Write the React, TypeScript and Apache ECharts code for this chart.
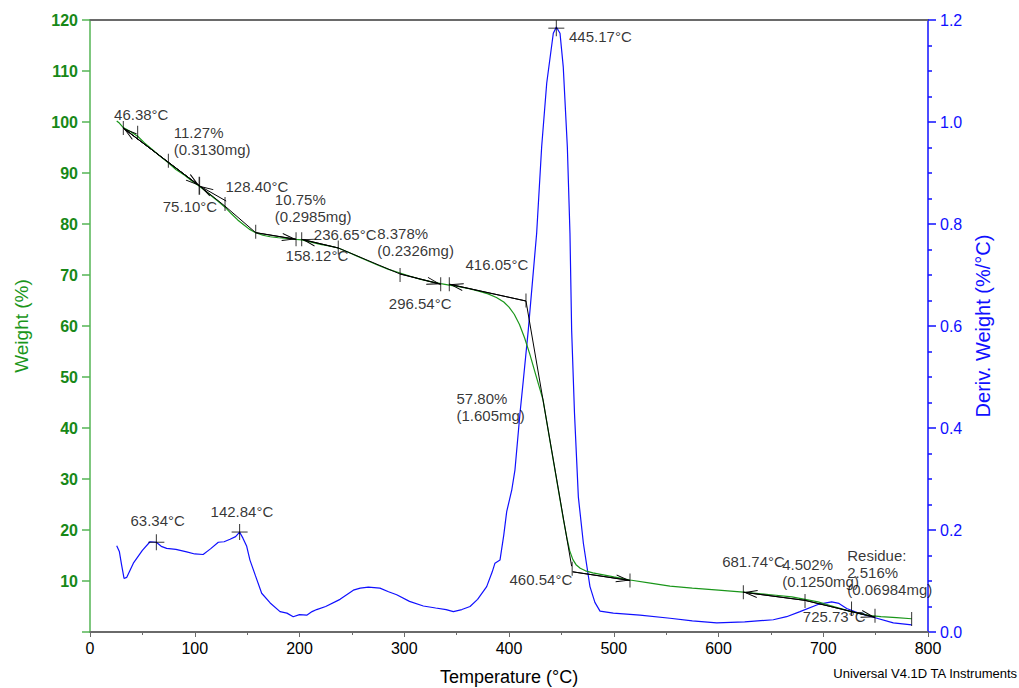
import React, { useEffect, useRef } from "react";
import * as echarts from "echarts";

// TGA weight curve: [temperature °C, weight %]
const tgaCurve: [number, number][] = [
  [25.5, 100.2], [28, 99.8], [31.8, 98.9], [38, 98.2], [45.5, 97.2], [52, 95.9], [60, 94.5], [67, 93.3],
  [74.8, 92.0], [82, 90.7], [90, 89.6], [97, 88.5], [104.4, 87.4], [110, 86.5], [116, 85.5], [122, 84.5],
  [128.9, 83.3], [135, 82.0], [141, 80.8], [147, 79.8], [152, 79.0], [158.2, 78.3], [165, 77.8], [172, 77.5],
  [180, 77.3], [188, 77.2], [196.7, 77.0], [202.1, 76.9], [210, 76.5], [220, 76.0], [228, 75.7], [237, 75.3],
  [245, 74.6], [255, 73.7], [265, 72.8], [275, 71.9], [285, 71.1], [296, 70.4], [305, 69.8], [315, 69.2],
  [325, 68.7], [334.8, 68.3], [343, 68.0], [352, 67.7], [362, 67.3], [372, 66.8], [380, 66.3], [388, 65.6],
  [395, 64.7], [400, 63.7], [405, 62.3], [410, 60.3], [415, 57.6], [420, 54.4], [425, 50.8], [432.5, 45.5],
  [440, 36.4], [445, 30.4], [449, 25.6], [452, 22.0], [455.5, 18.2], [458, 15.9], [461, 14.2], [464, 13.2],
  [468, 12.5], [473, 12.0], [480, 11.6], [490, 11.2], [500, 10.8], [515.5, 10.2], [535, 9.6], [553.7, 9.0],
  [575, 8.6], [600, 8.2], [623.7, 7.8], [650, 7.3], [670, 6.9], [682.6, 6.4], [695, 5.9], [705, 5.3],
  [715, 4.7], [725, 4.1], [735, 3.6], [745, 3.2], [755, 3.0], [770, 2.8], [784.4, 2.6],
];

// Derivative weight curve: [temperature °C, %/°C]
const dtgCurve: [number, number][] = [
  [25.5, 0.169], [28, 0.158], [30.2, 0.131], [32.5, 0.105], [35, 0.107], [41.4, 0.135], [50, 0.160],
  [57.3, 0.177], [63.3, 0.176], [68, 0.168], [73.2, 0.164], [82, 0.162], [92.3, 0.157], [100, 0.153],
  [108, 0.152], [115, 0.163], [122.5, 0.176], [128, 0.177], [133.7, 0.182], [139, 0.187], [142.8, 0.196],
  [146, 0.184], [149.6, 0.168], [152.7, 0.141], [158, 0.110], [163.9, 0.076], [172, 0.057], [181.4, 0.040],
  [188, 0.037], [194, 0.030], [200, 0.034], [206.9, 0.033], [212, 0.040], [216.4, 0.044], [225, 0.050],
  [238.7, 0.064], [251.4, 0.082], [258, 0.086], [265.7, 0.088], [276.8, 0.086], [285, 0.079], [292.8, 0.073],
  [305, 0.060], [318.2, 0.051], [330, 0.047], [340, 0.044], [346.9, 0.040], [355, 0.044], [362.8, 0.050],
  [370, 0.064], [378.7, 0.089], [384, 0.118], [386.6, 0.135], [391.4, 0.141], [395, 0.190], [397.8, 0.236],
  [402.6, 0.278], [405.7, 0.318], [410.5, 0.429], [413.7, 0.494], [418.4, 0.592], [426.4, 0.782],
  [431.2, 0.952], [436, 1.076], [442.3, 1.174], [445.2, 1.186], [448.7, 1.174], [451.8, 1.108],
  [455.7, 0.951], [458.2, 0.782], [459.8, 0.592], [462.5, 0.43], [466.2, 0.265], [471, 0.174],
  [477.3, 0.089], [482, 0.058], [486.9, 0.041], [499.6, 0.037], [525, 0.033], [553.7, 0.027],
  [575, 0.022], [598.3, 0.018], [625, 0.020], [652.3, 0.024], [665, 0.030], [677.8, 0.040], [695, 0.054],
  [708, 0.059], [715, 0.056], [722.4, 0.046], [735, 0.036], [747.8, 0.029], [766.9, 0.018], [784.4, 0.014],
];

// Step-analysis tangent/segment lines (weight axis)
const stepSegments: [number, number][][] = [
  [[31.8, 98.8], [104.4, 87.5]],
  [[104.4, 87.5], [128.9, 83.5], [158.2, 78.3]],
  [[158.2, 78.3], [196.7, 77.0]],
  [[202.1, 77.0], [237, 75.3], [296, 70.2], [334.8, 68.2]],
  [[343, 68.2], [416.2, 64.9], [459.8, 12.9]],
  [[460.8, 11.8], [515.5, 10.1]],
  [[623.7, 7.8], [682.6, 6.2], [749.4, 2.9]],
];

// Arrow heads: [tail, tip]
const stepArrows: [[number, number], [number, number]][] = [
  [[104.4, 87.5], [31.8, 98.8]],
  [[31.8, 98.8], [104.4, 87.5]],
  [[130, 84.5], [104.4, 87.5]],
  [[158.2, 78.3], [196.7, 77.0]],
  [[237, 75.3], [202.1, 77.0]],
  [[296, 70.2], [334.8, 68.2]],
  [[416.2, 64.9], [343, 68.2]],
  [[460.8, 11.8], [515.5, 10.1]],
  [[682.6, 6.2], [623.7, 7.8]],
  [[682.6, 6.2], [749.4, 2.9]],
];

// Vertical limit ticks on the weight curve
const stepTicks: [number, number][] = [
  [31.8, 98.8], [45.5, 97.9], [74.8, 92.4], [128.9, 83.9], [158.2, 78.5], [196.7, 77.0], [202.1, 77.0],
  [237, 75.4], [296, 70.0], [334.8, 68.2], [343, 68.2], [416.2, 65.0], [460.3, 12.4], [515.5, 10.1],
  [623.7, 7.8], [682.6, 6.1], [727, 4.6], [749.4, 3.2], [784.4, 2.55],
];
const longTicks: [number, number][] = [[104.4, 87.5]];

// Peak crosshairs on the derivative curve
const peakMarks: [number, number][] = [[63.34, 0.176], [142.84, 0.196], [445.17, 1.184]];

// Annotation texts: [temperature, weight, text]
const annotations: [number, number, string][] = [
  [22.5, 101.4, "46.38°C"],
  [79.5, 96.3, "11.27%\n(0.3130mg)"],
  [128.9, 87.3, "128.40°C"],
  [69.0, 83.5, "75.10°C"],
  [176.0, 83.2, "10.75%\n(0.2985mg)"],
  [213.2, 78.0, "236.65°C"],
  [273.7, 76.5, "8.378%\n(0.2326mg)"],
  [186.2, 73.9, "158.12°C"],
  [284.8, 64.5, "296.54°C"],
  [358.0, 72.0, "416.05°C"],
  [456.8, 116.7, "445.17°C"],
  [349.4, 44.2, "57.80%\n(1.605mg)"],
  [400.0, 10.2, "460.54°C"],
  [38.2, 21.8, "63.34°C"],
  [114.6, 23.7, "142.84°C"],
  [603.0, 13.8, "681.74°C"],
  [660.3, 11.5, "4.502%\n(0.1250mg)"],
  [722.4, 11.7, "Residue:\n2.516%\n(0.06984mg)"],
  [680.0, 3.1, "725.73°C"],
];

const xTicks = { min: 0, max: 800, interval: 100 };
const weightTicks = { min: 0, max: 120, interval: 10 };
const derivTicks = { min: 0, max: 1.2, interval: 0.2 };

const FONT = "Liberation Sans, Arial, Helvetica, sans-serif";
const GREEN_TEXT = "#178817";
const GREEN_LINE = "#55b555";
const GREEN_CURVE = "#1a961a";
const BLUE = "#1010ff";
const GRAY = "#6a6a6a";

const ARROW = "path://M4,-14 M0,14 L4,0 L8,14 L7,14 L4,3.5 L1,14 Z";

export default function App() {
  const ref = useRef<HTMLDivElement>(null);

  useEffect(() => {
    if (!ref.current) return;
    const chart = echarts.init(ref.current, undefined, { renderer: "svg" });

    const segSeries = stepSegments.map((seg, i) => ({
      type: "line",
      data: seg,
      xAxisIndex: 0,
      yAxisIndex: 0,
      symbol: "none",
      silent: true,
      z: 5,
      lineStyle: { color: "#000", width: 1 },
      ...(i === 0
        ? {
            markLine: {
              silent: true,
              animation: false,
              label: { show: false },
              lineStyle: { color: "#000", width: 1, type: "solid" },
              emphasis: { disabled: true },
              data: stepArrows.map(([tail, tip]) => [
                { coord: tail, symbol: "none" },
                { coord: tip, symbol: ARROW, symbolSize: [8, 28] },
              ]),
            },
          }
        : {}),
    }));

    const option: any = {
      animation: false,
      textStyle: { fontFamily: FONT },
      grid: { left: 90, right: 91, top: 20, bottom: 56, containLabel: false, outerBoundsMode: "none" },
      xAxis: [
        {
          type: "value",
          min: xTicks.min,
          max: xTicks.max,
          interval: xTicks.interval,
          name: "Temperature (°C)",
          nameLocation: "middle",
          nameGap: 36,
          nameTextStyle: { color: "#000", fontSize: 18, fontFamily: FONT },
          axisLine: { show: true, onZero: false, lineStyle: { color: GRAY, width: 2 } },
          axisTick: { show: true, inside: false, length: 5, lineStyle: { color: GRAY } },
          minorTick: { show: true, splitNumber: 2, length: 3, lineStyle: { color: GRAY } },
          axisLabel: { color: "#000", fontSize: 16, margin: 8, fontFamily: FONT },
          splitLine: { show: false },
        },
        {
          type: "value",
          position: "top",
          min: xTicks.min,
          max: xTicks.max,
          axisLine: { show: true, onZero: false, lineStyle: { color: GRAY, width: 2 } },
          axisTick: { show: false },
          axisLabel: { show: false },
          splitLine: { show: false },
        },
      ],
      yAxis: [
        {
          type: "value",
          position: "left",
          min: weightTicks.min,
          max: weightTicks.max,
          interval: weightTicks.interval,
          name: "Weight (%)",
          nameLocation: "middle",
          nameGap: 59,
          nameTextStyle: { color: GREEN_CURVE, fontSize: 19, fontFamily: FONT },
          axisLine: { show: true, onZero: false, lineStyle: { color: GREEN_LINE, width: 1.5 } },
          axisTick: { show: true, inside: false, length: 8, lineStyle: { color: GREEN_LINE, width: 1.5 } },
          axisLabel: {
            color: GREEN_TEXT,
            fontSize: 16,
            fontWeight: "bold",
            margin: 12,
            fontFamily: FONT,
            formatter: (v: number) => (v === 0 ? "" : String(v)),
          },
          splitLine: { show: false },
        },
        {
          type: "value",
          position: "right",
          min: derivTicks.min,
          max: derivTicks.max,
          interval: derivTicks.interval,
          name: "Deriv. Weight (%/°C)",
          nameLocation: "middle",
          nameGap: 44,
          nameTextStyle: { color: BLUE, fontSize: 20, fontFamily: FONT },
          axisLine: { show: true, onZero: false, lineStyle: { color: BLUE, width: 1.5 } },
          axisTick: { show: true, inside: false, length: 8, lineStyle: { color: BLUE, width: 1.5 } },
          minorTick: { show: true, splitNumber: 4, length: 4, lineStyle: { color: BLUE, width: 1.5 } },
          axisLabel: {
            color: BLUE,
            fontSize: 16,
            margin: 12,
            fontFamily: FONT,
            formatter: (v: number) => v.toFixed(1),
          },
          splitLine: { show: false },
        },
      ],
      series: [
        {
          type: "line",
          name: "Weight",
          data: tgaCurve,
          xAxisIndex: 0,
          yAxisIndex: 0,
          symbol: "none",
          silent: true,
          z: 3,
          lineStyle: { color: GREEN_CURVE, width: 1.2 },
        },
        {
          type: "line",
          name: "Deriv. Weight",
          data: dtgCurve,
          xAxisIndex: 0,
          yAxisIndex: 1,
          symbol: "none",
          silent: true,
          z: 2,
          lineStyle: { color: BLUE, width: 1.2 },
        },
        ...segSeries,
        {
          type: "scatter",
          data: stepTicks,
          xAxisIndex: 0,
          yAxisIndex: 0,
          symbol: "rect",
          symbolSize: [1, 14],
          silent: true,
          z: 6,
          itemStyle: { color: "#000" },
        },
        {
          type: "scatter",
          data: longTicks,
          xAxisIndex: 0,
          yAxisIndex: 0,
          symbol: "rect",
          symbolSize: [1.5, 18],
          silent: true,
          z: 6,
          itemStyle: { color: "#000" },
        },
        {
          type: "scatter",
          data: peakMarks,
          xAxisIndex: 0,
          yAxisIndex: 1,
          symbol: "rect",
          symbolSize: [16, 1],
          silent: true,
          z: 6,
          itemStyle: { color: "#000" },
        },
        {
          type: "scatter",
          data: peakMarks,
          xAxisIndex: 0,
          yAxisIndex: 1,
          symbol: "rect",
          symbolSize: [1, 16],
          silent: true,
          z: 6,
          itemStyle: { color: "#000" },
        },
        {
          type: "scatter",
          xAxisIndex: 0,
          yAxisIndex: 0,
          symbolSize: 1,
          silent: true,
          z: 7,
          itemStyle: { color: "rgba(0,0,0,0)" },
          data: annotations.map(([t, w, s]) => ({
            value: [t, w],
            label: { formatter: s },
          })),
          label: {
            show: true,
            position: "right",
            distance: 0,
            color: "#000",
            fontSize: 15,
            lineHeight: 17,
            fontFamily: FONT,
          },
        },
      ],
      graphic: [
        {
          type: "text",
          right: 1,
          top: 667,
          style: { text: "Universal V4.1D TA Instruments", font: `13px ${FONT}`, fill: "#000" },
        },
      ],
    };

    chart.setOption(option);
    return () => chart.dispose();
  }, []);

  return (
    <div
      ref={ref}
      style={{ position: "fixed", left: 0, top: 0, width: 1019, height: 688, background: "#fff" }}
    />
  );
}
